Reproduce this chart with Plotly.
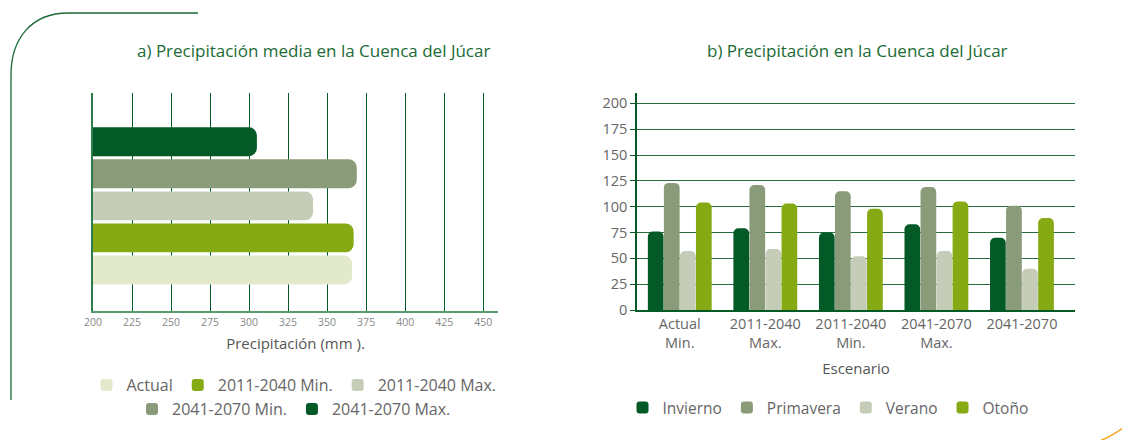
import plotly.graph_objects as go

W, H = 1130, 440
OFF = 8  # page body margin in the viewer

# ---------------- Data ----------------
# a) Precipitación media (mm)
scen_a = ["Actual", "2011-2040 Min.", "2011-2040 Max.", "2041-2070 Min.", "2041-2070 Max."]
precip_a = [366, 367, 341, 369, 305]
colors_a = ["#e2eacb", "#86aa14", "#c5cdb9", "#8a9b7a", "#035a27"]

# b) Precipitación estacional
cats_b = ["Actual<br>Min.", "2011-2040<br>Max.", "2011-2040<br>Min.", "2041-2070<br>Max.", "2041-2070"]
seasons = ["Invierno", "Primavera", "Verano", "Otoño"]
invierno = [76, 79, 75, 83, 70]
primavera = [123, 121, 115, 119, 101]
verano = [57, 59, 52, 57, 40]
otono = [104, 103, 98, 105, 89]
values_b = [invierno, primavera, verano, otono]
colors_b = ["#035a27", "#8a9b7a", "#c5cdb9", "#86aa14"]

FONT = "Open Sans"
GREEN = "#035a27"
GREY = "#666666"


def px(x):
    return (x - OFF) / W


def py(y):
    return 1 - (y - OFF) / H


fig = go.Figure()

# Left chart: one bar per scenario, stacked vertically
for i, (name, val, col) in enumerate(zip(scen_a, precip_a, colors_a)):
    fig.add_trace(go.Bar(
        x=[val], y=[i], orientation="h", name=name,
        marker=dict(color=col, line=dict(width=0), cornerradius=8),
        width=0.9, offset=-0.45,
        xaxis="x", yaxis="y",
        legend="legend" if i < 3 else "legend3",
        hovertemplate=name + ": %{x} mm<extra></extra>",
    ))

# Right chart: grouped seasonal bars
for name, vals, col in zip(seasons, values_b, colors_b):
    fig.add_trace(go.Bar(
        x=cats_b, y=vals, name=name,
        marker=dict(color=col, line=dict(width=0), cornerradius=5),
        xaxis="x2", yaxis="y2", legend="legend2",
    ))

# Decorative frame (top-left) and orange arc (bottom-right)
frame_pts = "M {} {} L {} {} C {} {}, {} {}, {} {} L {} {}".format(
    px(11), py(400), px(11), py(75),
    px(11), py(38), px(32), py(13), px(68), py(13),
    px(198), py(13))
arc_pts = "M {} {} Q {} {}, {} {}".format(px(1100), py(441), px(1120), py(432), px(1131), py(421))

fig.update_layout(
    width=W, height=H,
    margin=dict(l=0, r=0, t=0, b=0, autoexpand=False),
    paper_bgcolor="white", plot_bgcolor="white",
    font=dict(family=FONT, color=GREY),
    barmode="group", bargap=0.25, bargroupgap=0.02,
    showlegend=True,
    xaxis=dict(
        domain=[px(93), px(498)], anchor="y",
        range=[200, 459.5],
        tickmode="array", tickvals=list(range(200, 451, 25)),
        tickfont=dict(size=10.5, color="#888888"),
        showgrid=True, gridcolor=GREEN, gridwidth=1,
        showline=True, linecolor="#5a9a6e", linewidth=2,
        zeroline=False, ticks="",
        title=dict(text="Precipitación (mm ).", font=dict(size=15, color="#555555"), standoff=11),
    ),
    yaxis=dict(
        domain=[py(311), py(93)], anchor="x",
        range=[-1.28, 5.52],
        showticklabels=False, showgrid=False, zeroline=False,
        showline=True, linecolor="#2f7a4a", linewidth=1.5, ticks="",
    ),
    xaxis2=dict(
        domain=[px(637), px(1075)], anchor="y2",
        range=[-0.5, 4.62],
        tickfont=dict(size=14.5, color=GREY),
        showgrid=False, zeroline=False,
        showline=True, linecolor=GREEN, linewidth=2, ticks="",
        title=dict(text="Escenario", font=dict(size=15, color="#555555"), standoff=12),
    ),
    yaxis2=dict(
        domain=[py(310), py(93)], anchor="x2",
        range=[0, 210],
        tickmode="array", tickvals=list(range(0, 201, 25)),
        tickfont=dict(size=14.5, color=GREY),
        showgrid=True, gridcolor="#2a6c41", gridwidth=1.2,
        zeroline=False, showline=True, linecolor=GREEN, linewidth=1.5,
        ticks="outside", ticklen=5, tickcolor=GREEN,
    ),
    legend=dict(
        orientation="h", x=px(294), y=py(385), xanchor="center", yanchor="middle",
        font=dict(size=16, color=GREY), bgcolor="rgba(0,0,0,0)",
        itemwidth=30,
    ),
    legend3=dict(
        orientation="h", x=px(294), y=py(409), xanchor="center", yanchor="middle",
        font=dict(size=16, color=GREY), bgcolor="rgba(0,0,0,0)",
        itemwidth=30,
    ),
    legend2=dict(
        orientation="h", x=px(828), y=py(408), xanchor="center", yanchor="middle",
        font=dict(size=15.5, color=GREY), bgcolor="rgba(0,0,0,0)",
        itemwidth=30,
    ),
    annotations=[
        dict(text="a) Precipitación media en la Cuenca del Júcar", x=px(313), y=py(50),
             xref="paper", yref="paper", showarrow=False, xanchor="center", yanchor="middle",
             font=dict(size=17, color="#1a6b35")),
        dict(text="b) Precipitación en la Cuenca del Júcar", x=px(857), y=py(50),
             xref="paper", yref="paper", showarrow=False, xanchor="center", yanchor="middle",
             font=dict(size=17, color="#1a6b35")),
    ],
    shapes=[
        dict(type="path", path=frame_pts, xref="paper", yref="paper",
             line=dict(color="#1a6b35", width=1.3)),
        dict(type="path", path=arc_pts, xref="paper", yref="paper",
             line=dict(color="#f5a21c", width=1.5)),
    ],
)

fig.write_html("out.html")
